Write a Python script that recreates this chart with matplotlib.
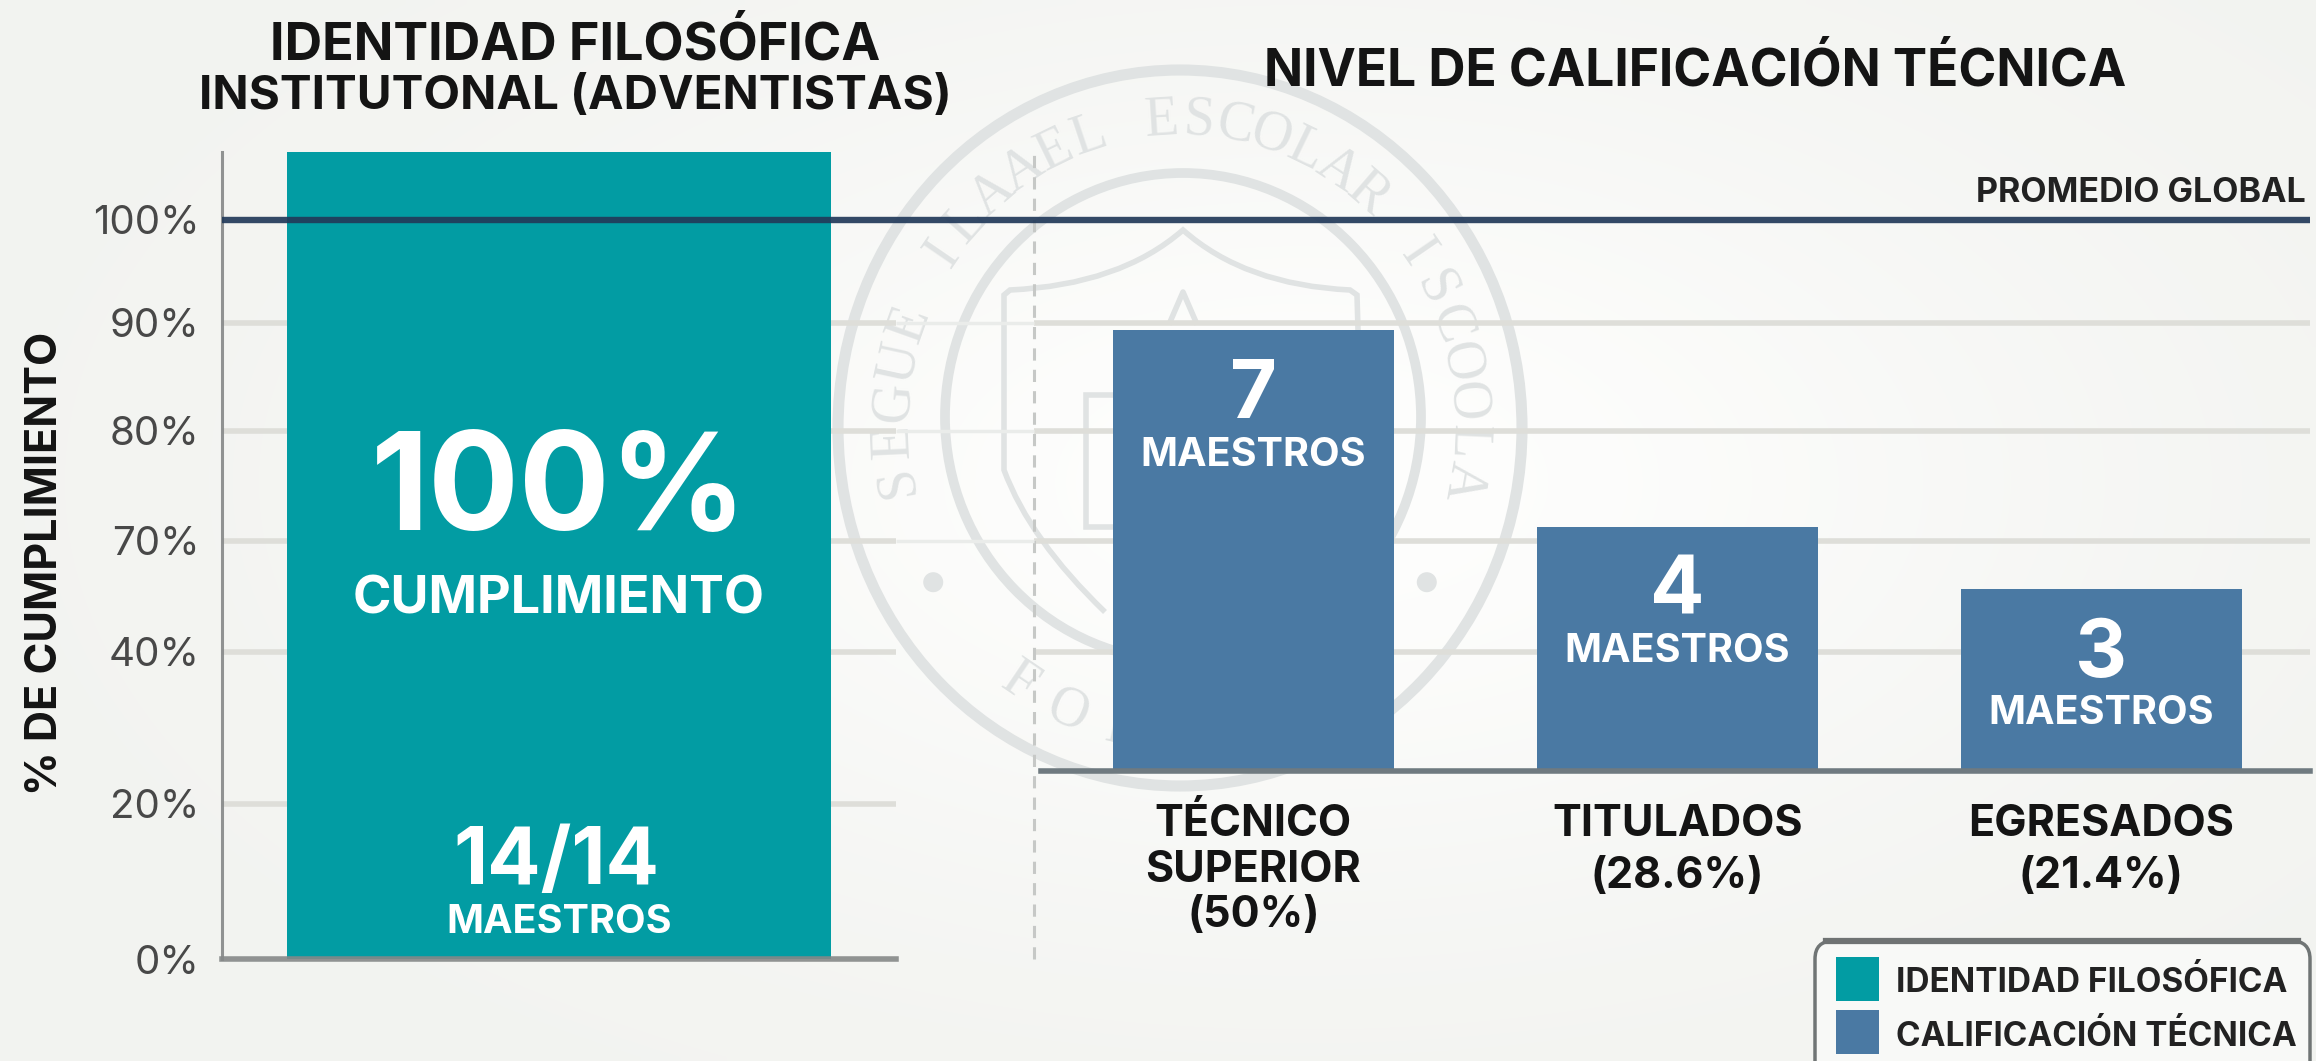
import numpy as np
import matplotlib
matplotlib.use('Agg')
import matplotlib.pyplot as plt
from matplotlib.patches import FancyBboxPatch, Circle, Ellipse, Rectangle, PathPatch
from matplotlib.path import Path

plt.rcParams['font.family'] = ['Inter', 'DejaVu Sans']

W, H = 2316, 1061

# data
ytick_values = [0, 20, 40, 70, 80, 90, 100]
ytick_labels = ['0%', '20%', '40%', '70%', '80%', '90%', '100%']
grid_left = [20, 40, 70, 80, 90]
grid_right = [40, 70, 80, 90]
grid_gap = [70, 80, 90]
promedio = 100
identidad_bar = 106.6   # the bar is drawn past the 100% line in the original
tecnica_cats = ['TÉCNICO\nSUPERIOR\n(50%)', 'TITULADOS\n(28.6%)', 'EGRESADOS\n(21.4%)']
tecnica_heights = [7.11, 3.94, 2.94]
tecnica_counts = ['7', '4', '3']
legend_labels = ['IDENTIDAD FILOSÓFICA', 'CALIFICACIÓN TÉCNICA']

TEAL = '#029ca3'
BLUE = '#4a79a3'
NAVY = '#223a5a'
GRID = '#deded9'
AXIS = '#858888'
SEAL = '#e0e3e3'
DARK = '#141414'

# the % axis is not even, spacing as read off the picture
scale_val = [0, 20, 40, 70, 80, 90, 100, 110]
scale_pos = [0, 155, 307, 418, 528, 636, 739, 842]
def fwd(v):
    return np.interp(v, scale_val, scale_pos)
def inv(p):
    return np.interp(p, scale_pos, scale_val)


def axes_px(x0, x1, ytop, ybot):
    a = fig.add_axes([x0 / W, 1 - ybot / H, (x1 - x0) / W, (ybot - ytop) / H])
    a.patch.set_alpha(0)
    for s in a.spines.values():
        s.set_visible(False)
    return a


fig = plt.figure(figsize=(W / 100, H / 100), dpi=100, facecolor='#f3f4f1')

# background glow + seal
bg = fig.add_axes([0, 0, 1, 1])
xx, yy = np.meshgrid(np.arange(0, W, 8), np.arange(0, H, 8))
glow = np.exp(-(((xx - 1300) / 800.0) ** 2 + ((yy - 480) / 420.0) ** 2))
edge = np.array([0xf2, 0xf3, 0xf0]) / 255.0
mid = np.array([0xfe, 0xfe, 0xfd]) / 255.0
bg.imshow(edge + (mid - edge) * glow[..., None], extent=(0, W, H, 0), aspect='auto', interpolation='bilinear')
bg.set_xlim(0, W)
bg.set_ylim(H, 0)
bg.axis('off')

# the seal is slightly stretched upright in the original
cx, cy = 1180, 428
bg.add_patch(Ellipse((cx, cy), 2 * 342, 2 * 358, fc='none', ec=SEAL, lw=8))
bg.add_patch(Ellipse((cx + 3, cy - 11), 2 * 238, 2 * 244, fc='none', ec=SEAL, lw=7))
serif = ['Liberation Serif', 'DejaVu Serif']
seal_top = 'SEGUE ILAAEL ESCOLAR ISCOOLA'
angles = np.linspace(-100, 100, len(seal_top))
for ch, a in zip(seal_top, angles):
    t = np.radians(a)
    bg.text(cx + 287 * np.sin(t), cy - 308 * np.cos(t), ch, rotation=-a, rotation_mode='anchor',
            ha='center', va='center', fontsize=40, color=SEAL, family=serif)
for ch, a in zip('FOI', [214, 203, 193]):
    t = np.radians(a)
    bg.text(cx + 287 * np.sin(t), cy - 308 * np.cos(t), ch, rotation=180 - a, rotation_mode='anchor',
            ha='center', va='center', fontsize=40, color=SEAL, family=serif)
for a in [-122, 122]:
    t = np.radians(a)
    bg.add_patch(Circle((cx + 291 * np.sin(t), cy - 291 * np.cos(t)), 10, fc=SEAL, ec='none'))
# shield outline and the small building inside it
shield = Path([(1105, 612), (1030, 540), (1004, 470), (1004, 295), (1010, 290), (1120, 285), (1183, 230),
               (1245, 285), (1350, 290), (1357, 295), (1362, 470), (1330, 540), (1262, 612)],
              [Path.MOVETO, Path.CURVE3, Path.CURVE3, Path.LINETO, Path.LINETO, Path.CURVE3, Path.CURVE3,
               Path.CURVE3, Path.CURVE3, Path.LINETO, Path.LINETO, Path.CURVE3, Path.CURVE3])
bg.add_patch(PathPatch(shield, fc='none', ec=SEAL, lw=4))
bg.add_patch(Rectangle((1086, 395), 60, 132, fc='none', ec=SEAL, lw=4))
bg.plot([1170, 1183, 1196], [322, 292, 322], color=SEAL, lw=4)

# left panel
axl = axes_px(222, 896, 152, 959)
axl.set_yscale('function', functions=(fwd, inv))
axl.set_ylim(0, identidad_bar)
axl.bar([0.5], [identidad_bar], width=2.0, color=TEAL, zorder=3, align='center')
axl.set_xlim(-0.74, 1.74)
axl.set_xticks([])
axl.set_yticks(ytick_values)
axl.set_yticklabels(ytick_labels, fontsize=29, color='#484848')
axl.tick_params(axis='y', length=0, pad=16)
axl.minorticks_off()
for side, lw in [('left', 2.2), ('bottom', 4)]:
    axl.spines[side].set_visible(True)
    axl.spines[side].set_color(AXIS)
    axl.spines[side].set_linewidth(lw)
    axl.spines[side].set_zorder(4)
    axl.spines[side].set_alpha(0.9)
axl.hlines(grid_left, *axl.get_xlim(), color=GRID, lw=4, zorder=1)

wt = dict(color='white', ha='center', va='center', fontweight='bold', zorder=5)
tr = axl.get_xaxis_transform()
axl.text(0.5, 0.576, '100%', transform=tr, fontsize=97, **wt)
axl.text(0.5, 0.445, 'CUMPLIMIENTO', transform=tr, fontsize=37.5, **wt)
axl.text(0.49, 0.119, '14/14', transform=tr, fontsize=57, **wt)
axl.text(0.5, 0.045, 'MAESTROS', transform=tr, fontsize=28.5, **wt)

# right panel gridlines on the same % scale
axg = axes_px(1034, 2310, 152, 959)
axg.set_yscale('function', functions=(fwd, inv))
axg.set_ylim(0, identidad_bar)
axg.set_xticks([])
axg.set_yticks([])
axg.minorticks_off()
axg.hlines(grid_right, 0, 1, color=GRID, lw=4, zorder=1)
axg.set_xlim(0, 1)
axg.axvline(0, color='#c6c8c6', lw=2.2, ls=(0, (4, 3)), clip_on=False)

# right panel bars, height = teachers
axb = axes_px(1041, 2310, 152, 771)
axb.set_ylim(0, 619 / 62)
axb.set_xlim(-0.501, 2.492)
x = np.arange(len(tecnica_cats))
axb.bar(x, tecnica_heights, width=0.663, color=BLUE, zorder=3)
axb.set_xticks(x)
axb.set_xticklabels(tecnica_cats, fontsize=31, fontweight='bold', color=DARK, linespacing=1.14)
axb.get_xticklabels()[1].set_linespacing(1.33)
axb.get_xticklabels()[2].set_linespacing(1.33)
axb.tick_params(axis='x', length=0, pad=24)
axb.set_yticks([])
axb.spines['bottom'].set_visible(True)
axb.spines['bottom'].set_color('#6f7a80')
axb.spines['bottom'].set_linewidth(4)
axb.spines['bottom'].set_zorder(4)
for i, h in enumerate(tecnica_heights):
    axb.text(i, h - 1.08, tecnica_counts[i], fontsize=58, **wt)
    axb.text(i, h - 2.02, 'MAESTROS', fontsize=28.5, **wt)

# promedio line crosses both panels
axp = axes_px(222, 2310, 152, 959)
axp.set_yscale('function', functions=(fwd, inv))
axp.set_ylim(0, identidad_bar)
axp.set_xlim(0, 1)
axp.set_xticks([])
axp.set_yticks([])
axp.minorticks_off()
axp.hlines(grid_gap, 0.323, 0.389, color='#eaecea', lw=2.5, zorder=1)
axp.axhline(promedio, color=NAVY, lw=4.6, alpha=0.92, zorder=6)
axp.text(0.998, 101.1, 'PROMEDIO GLOBAL', transform=axp.get_yaxis_transform(), ha='right', va='bottom',
         fontsize=24.5, fontweight='bold', color='#222222')

# titles
fig.text(575 / W, 1 - 45 / H, 'IDENTIDAD FILOSÓFICA', ha='center', va='center',
         fontsize=37.5, fontweight='bold', color=DARK)
fig.text(575 / W, 1 - 97 / H, 'INSTITUTONAL (ADVENTISTAS)', ha='center', va='center',
         fontsize=34.3, fontweight='bold', color=DARK)
fig.text(1695 / W, 1 - 71 / H, 'NIVEL DE CALIFICACIÓN TÉCNICA', ha='center', va='center',
         fontsize=37, fontweight='bold', color=DARK)
fig.text(46 / W, 1 - 563 / H, '% DE CUMPLIMIENTO', rotation=90, ha='center', va='center',
         fontsize=31, fontweight='bold', color=DARK)

# legend box
fg = fig.add_axes([0, 0, 1, 1])
fg.set_xlim(0, W)
fg.set_ylim(H, 0)
fg.axis('off')
fg.patch.set_alpha(0)
fg.add_patch(FancyBboxPatch((1815, 941), 495, 150, boxstyle='round,pad=0,rounding_size=18', fc='#f8f9f7', ec='#707575', lw=2.5))
fg.plot([1826, 2298], [941, 941], color='#6f7373', lw=4.5)
for yc, col, lab in zip([979, 1032], [TEAL, BLUE], legend_labels):
    fg.add_patch(Rectangle((1836, yc - 22), 43, 44, fc=col, ec='none'))
    fg.text(1896, yc + 4, lab, fontsize=24, fontweight='bold', color='#222222', va='center')

fig.savefig('out.png', dpi=100, facecolor=fig.get_facecolor())
